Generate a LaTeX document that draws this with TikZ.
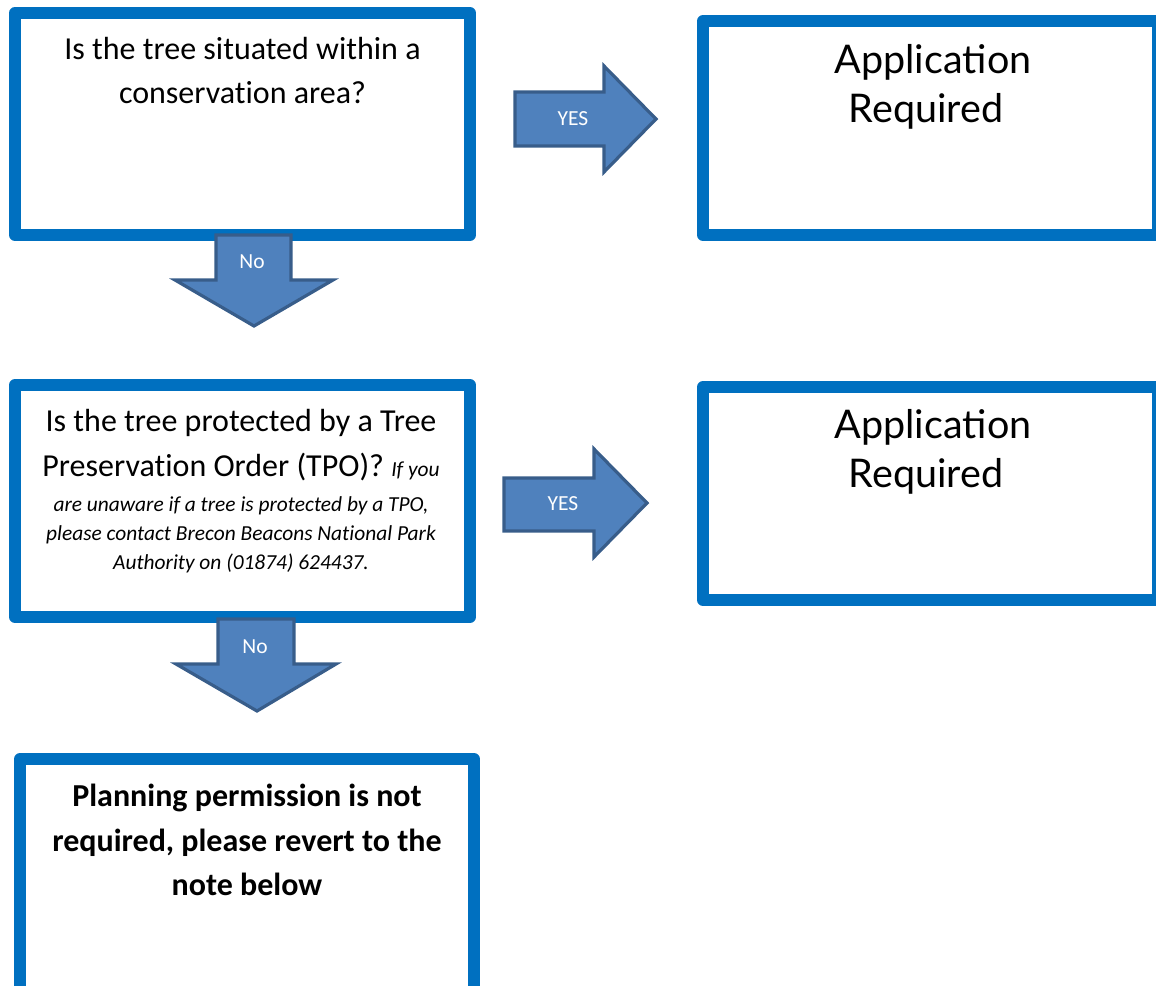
\documentclass[tikz,border=0pt]{standalone}
\usepackage{fontspec}
\setmainfont{Carlito}[Ligatures=NoCommon]
\newfontfamily\headfont{Lato}
\usetikzlibrary{positioning}
\definecolor{boxblue}{HTML}{0070C0}
\definecolor{arrowfill}{HTML}{4F81BD}
\definecolor{arrowline}{HTML}{385D8A}
\tikzset{
  qbox/.style={draw=boxblue, line width=12pt, line join=round, fill=white,
    rectangle, inner sep=0pt},
  blockarrow/.style={draw=arrowline, fill=arrowfill, line width=3.2pt, line join=miter},
  arrowtext/.style={text=white, font=\fontsize{21.5}{24}\selectfont, inner sep=0pt},
  qtext/.style={anchor=base, inner sep=0pt, font=\fontsize{32}{36}\selectfont},
  ptext/.style={anchor=base, inner sep=0pt, font=\fontsize{32}{36}\selectfont},
  itext/.style={anchor=base, inner sep=0pt, font=\fontsize{21.4}{25}\selectfont\itshape},
  btext/.style={anchor=base, inner sep=0pt, font=\fontsize{32}{36}\selectfont\bfseries},
  atext/.style={anchor=base, inner sep=0pt, font=\headfont\fontsize{39.5}{46}\selectfont},
}
\begin{document}
\begin{tikzpicture}[x=1pt, y=-1pt]
\useasboundingbox (0,0) rectangle (1156,985);

% question and outcome boxes
\node[qbox, minimum width=455pt, minimum height=222pt] (q1) at (242.5,124) {};
\node[qbox, minimum width=455pt, minimum height=214pt] (r1) at (930.5,128) {};
\node[qbox, minimum width=455pt, minimum height=232pt] (q2) at (242.5,501) {};
\node[qbox, minimum width=455pt, minimum height=213pt] (r2) at (930.5,493.5) {};
\node[qbox, minimum width=454pt, minimum height=256pt] (fin) at (247,887) {};

% text of the first question
\node[qtext] (q1a) at (242.5,59) {Is the tree situated within a};
\node[qtext] (q1b) at (242.5,103) {conservation area?};

% outcome texts
\node[atext] (r1a) at (933,73) {Application};
\node[atext] (r1b) at (926,122) {Required};
\node[atext] (r2a) at (933,438) {Application};
\node[atext] (r2b) at (926,487) {Required};

% text of the second question
\node[ptext] (q2a) at (241,431) {Is the tree protected by a Tree};
\node[ptext] (q2b) at (241,476) {Preservation Order (TPO)? {\fontsize{21.4}{25}\selectfont\itshape If you}};
\node[itext] (q2c) at (241,511) {are unaware if a tree is protected by a TPO,};
\node[itext] (q2d) at (241,540) {please contact Brecon Beacons National Park};
\node[itext] (q2e) at (241,569) {Authority on (01874) 624437.};

% final note
\node[btext] (fa) at (247,806) {Planning permission is not};
\node[btext] (fb) at (247,851) {required, please revert to the};
\node[btext] (fc) at (247,895) {note below};

% block arrows
\draw[blockarrow] (515,92) -- (604,92) -- (604,66) -- (656,119) -- (604,172)
  -- (604,146) -- (515,146) -- cycle;
\node[arrowtext] (yes1) at (573,119) {YES};

\draw[blockarrow] (504,478) -- (594,478) -- (594,449) -- (647,503) -- (594,557)
  -- (594,531) -- (504,531) -- cycle;
\node[arrowtext] (yes2) at (563,504) {YES};

\draw[blockarrow] (216,235) -- (291,235) -- (291,280) -- (333,280) -- (254,326)
  -- (175,280) -- (216,280) -- cycle;
\node[arrowtext] (no1) at (252,262) {No};

\draw[blockarrow] (218,619) -- (294,619) -- (294,664) -- (336,664) -- (257,711)
  -- (176,664) -- (218,664) -- cycle;
\node[arrowtext] (no2) at (255,647) {No};
\end{tikzpicture}
\end{document}
